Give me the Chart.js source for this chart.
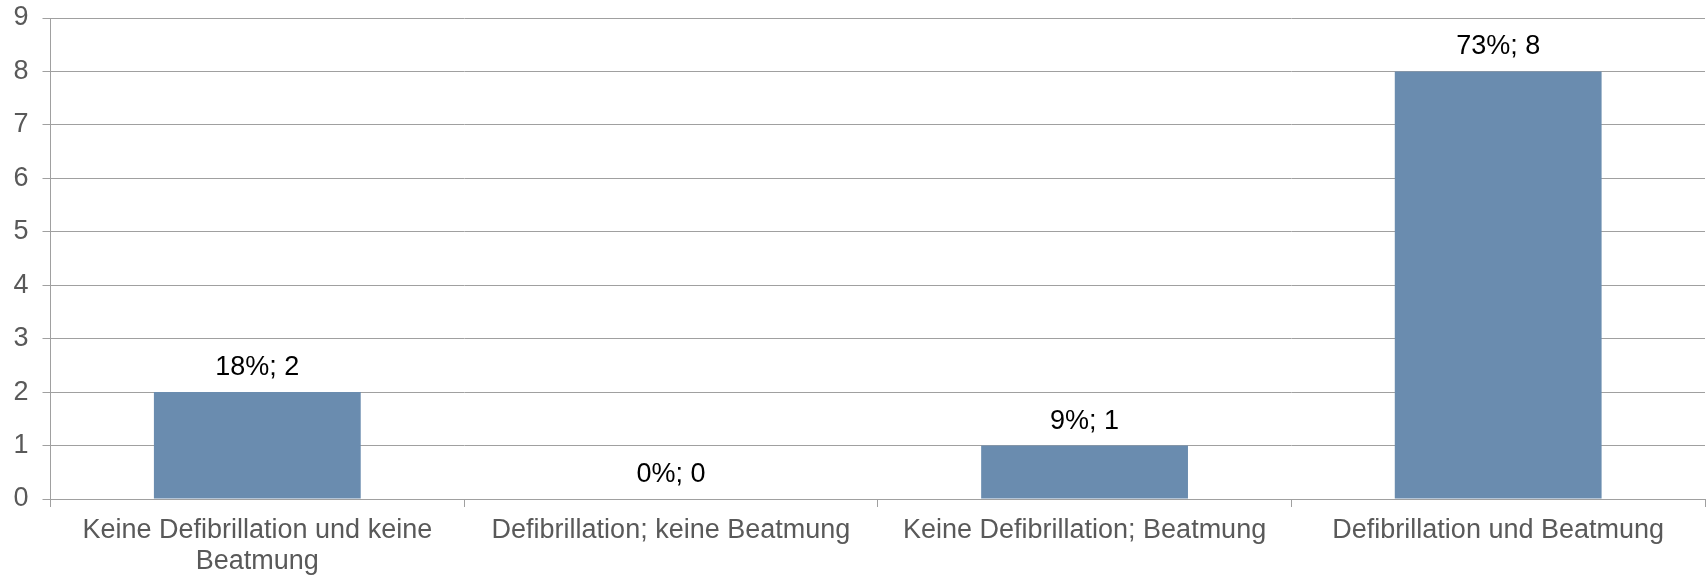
<!DOCTYPE html>
<html>
<head>
<meta charset="utf-8">
<script src="https://cdn.jsdelivr.net/npm/chart.js@4"></script>
<style>
  html, body { margin: 0; padding: 0; background: #fff; }
  canvas { display: block; }
</style>
</head>
<body>
<canvas id="myChart" width="1708" height="576"></canvas>
<script>
  // chart data
  const categories = [
    ['Keine Defibrillation und keine', 'Beatmung'],
    'Defibrillation; keine Beatmung',
    'Keine Defibrillation; Beatmung',
    'Defibrillation und Beatmung'
  ];
  const counts = [2, 0, 1, 8];
  const percents = ['18%', '0%', '9%', '73%'];
  const yTicks = [0, 1, 2, 3, 4, 5, 6, 7, 8, 9];

  const FONT = "'Liberation Sans', Arial, sans-serif";

  // draws "xx%; n" above each bar
  const barLabels = {
    id: 'barLabels',
    afterDatasetsDraw(chart) {
      const ctx = chart.ctx;
      const meta = chart.getDatasetMeta(0);
      ctx.save();
      ctx.font = '27px ' + FONT;
      ctx.fillStyle = '#000000';
      ctx.textAlign = 'center';
      ctx.textBaseline = 'alphabetic';
      meta.data.forEach(function (bar, i) {
        ctx.fillText(percents[i] + '; ' + counts[i], bar.x, bar.y - 17);
      });
      ctx.restore();
    }
  };

  new Chart(document.getElementById('myChart'), {
    type: 'bar',
    data: {
      labels: categories,
      datasets: [{
        data: counts,
        backgroundColor: '#6a8caf',
        borderWidth: 0,
        barPercentage: 0.5,
        categoryPercentage: 1.0
      }]
    },
    options: {
      responsive: false,
      animation: false,
      layout: { padding: { left: 12, right: 3, top: 4, bottom: 0 } },
      plugins: {
        legend: { display: false },
        tooltip: { enabled: false }
      },
      scales: {
        x: {
          offset: true,
          afterFit: function (scale) {
            scale.height = 77;
            scale.paddingLeft = 0;
            scale.paddingRight = 0;
          },
          grid: {
            offset: true,
            drawOnChartArea: false,
            drawTicks: true,
            tickLength: 8,
            color: '#a0a0a0'
          },
          border: { color: '#a0a0a0', width: 1 },
          ticks: {
            color: '#595959',
            font: { family: FONT, size: 27, lineHeight: 1.15 },
            padding: 8,
            maxRotation: 0,
            autoSkip: false
          }
        },
        y: {
          min: yTicks[0],
          max: yTicks[yTicks.length - 1],
          afterBuildTicks: function (axis) {
            axis.ticks = yTicks.map(function (v) { return { value: v }; });
          },
          afterFit: function (scale) {
            scale.width = 38.5;
            scale.paddingTop = 18;
            scale.paddingBottom = 0;
          },
          grid: {
            color: '#a0a0a0',
            lineWidth: 1,
            drawTicks: true,
            tickLength: 8
          },
          border: { color: '#a0a0a0', width: 1 },
          ticks: {
            color: '#595959',
            font: { family: FONT, size: 27 },
            padding: 14
          }
        }
      }
    },
    plugins: [barLabels]
  });
</script>
</body>
</html>
